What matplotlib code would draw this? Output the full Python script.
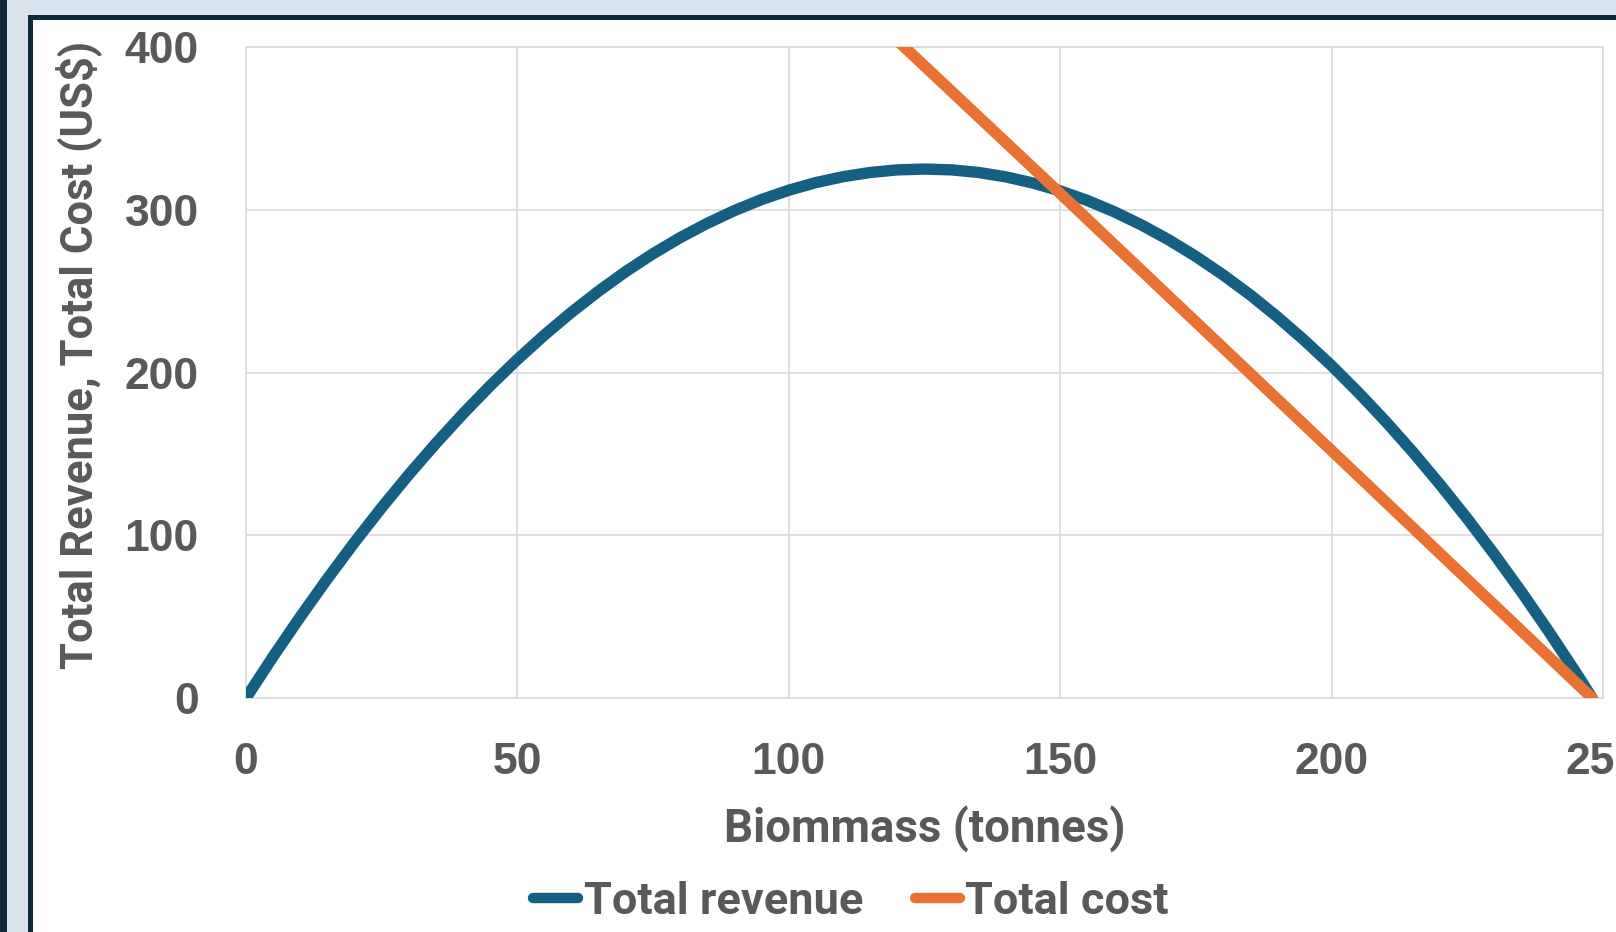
import matplotlib
matplotlib.use("Agg")
import matplotlib.pyplot as plt
from matplotlib.patches import Rectangle

# ---- data ----
biomass_rev = [0, 5, 10, 15, 20, 25, 30, 35, 40, 45, 50, 55, 60, 65, 70, 75, 80, 85, 90, 95,
               100, 105, 110, 115, 120, 125, 130, 135, 140, 145, 150, 155, 160, 165, 170, 175,
               180, 185, 190, 195, 200, 205, 210, 215, 220, 225, 230, 235, 240, 245, 248]
total_revenue = [0.0, 25.5, 49.9, 73.3, 95.7, 117.0, 137.3, 156.5, 174.7, 191.9, 208.0, 223.1,
                 237.1, 250.1, 262.1, 273.0, 282.9, 291.7, 299.5, 306.3, 312.0, 316.7, 320.3,
                 322.9, 324.5, 325.0, 324.5, 322.9, 320.2, 316.4, 311.6, 305.7, 298.7, 290.6,
                 281.5, 271.3, 260.0, 247.7, 234.2, 219.7, 204.2, 187.5, 169.8, 151.0, 131.1,
                 110.2, 88.2, 65.1, 40.9, 15.7, 0.0]
biomass_cost = [120, 150, 200, 248]
total_cost = [404, 310, 152, 0]

x_ticks = [0, 50, 100, 150, 200, 250]
y_ticks = [0, 100, 200, 300, 400]
x_label = "Biommass (tonnes)"
y_label = "Total Revenue, Total Cost (US$)"
series_names = ["Total revenue", "Total cost"]

# ---- style ----
W, H = 1616, 932
BLUE = "#156082"
ORANGE = "#E97132"
TEXT = "#595959"
GRID = "#D9D9D9"
BG = "#D9E3EC"
DARK = "#0F2A3B"
NARROW = ["Roboto", "Liberation Sans", "DejaVu Sans"]
REG = ["Liberation Sans", "DejaVu Sans"]

fig = plt.figure(figsize=(W / 100, H / 100), dpi=100)
fig.patch.set_facecolor(BG)
renderer = fig.canvas.get_renderer()


def px_rect(x0, y0, x1, y1, color):
    fig.add_artist(Rectangle((x0 / W, 1 - y1 / H), (x1 - x0) / W, (y1 - y0) / H,
                             transform=fig.transFigure, facecolor=color,
                             edgecolor="none", zorder=-5))


def fit_size(text, family, target_px, start=34):
    t = fig.text(0, 0, text, fontsize=start, fontweight="bold", family=family)
    w = t.get_window_extent(renderer).width
    t.remove()
    return start * target_px / w


px_rect(0, 0, 7, H + 5, DARK)
px_rect(28, 15, W + 5, H + 5, DARK)
px_rect(33, 19.5, W + 5, H + 5, "white")

ax = fig.add_axes([246 / W, 1 - 698 / H, (1603 - 246) / W, (698 - 47) / H])
ax.set_facecolor("white")

ax.plot(biomass_rev, total_revenue, color=BLUE, lw=8.2, solid_capstyle="round",
        solid_joinstyle="round", label=series_names[0], zorder=3)
ax.plot(biomass_cost, total_cost, color=ORANGE, lw=8.2, solid_capstyle="round",
        label=series_names[1], zorder=4)

ax.set_xlim(0, 250)
ax.set_ylim(0, 400)
ax.set_xticks(x_ticks)
ax.set_yticks(y_ticks)
ax.grid(True, color=GRID, lw=1.2)
ax.set_axisbelow(True)
for s in ax.spines.values():
    s.set_color(GRID)
    s.set_linewidth(1.2)

ax.tick_params(axis="both", length=0, labelsize=32, labelcolor=TEXT)
ax.tick_params(axis="x", pad=32)
ax.tick_params(axis="y", pad=34)
for lab in ax.get_xticklabels() + ax.get_yticklabels():
    lab.set_family(REG)
    lab.set_fontweight("bold")

ysize = fit_size(y_label, NARROW, 629)
fig.text(79 / W, 1 - 355 / H, y_label, rotation=90, ha="center", va="center",
         fontsize=ysize, fontweight="bold", color=TEXT, family=NARROW)
xsize = fit_size(x_label, NARROW, 401)
fig.text(924.5 / W, 1 - 829 / H, x_label, ha="center", va="center",
         fontsize=xsize, fontweight="bold", color=TEXT, family=NARROW)

lsize = fit_size(series_names[0], NARROW, 279)
leg = fig.legend(loc="center", bbox_to_anchor=(851 / W, 1 - 902 / H), ncol=2,
                 frameon=False, handlelength=1.0, handletextpad=0.12,
                 columnspacing=1.15, prop={"family": NARROW, "weight": "bold", "size": lsize})
for t in leg.get_texts():
    t.set_color(TEXT)
for h in leg.get_lines():
    h.set_solid_capstyle("round")
    h.set_linewidth(7.5)

fig.savefig("out.png", dpi=100, facecolor=fig.get_facecolor())
